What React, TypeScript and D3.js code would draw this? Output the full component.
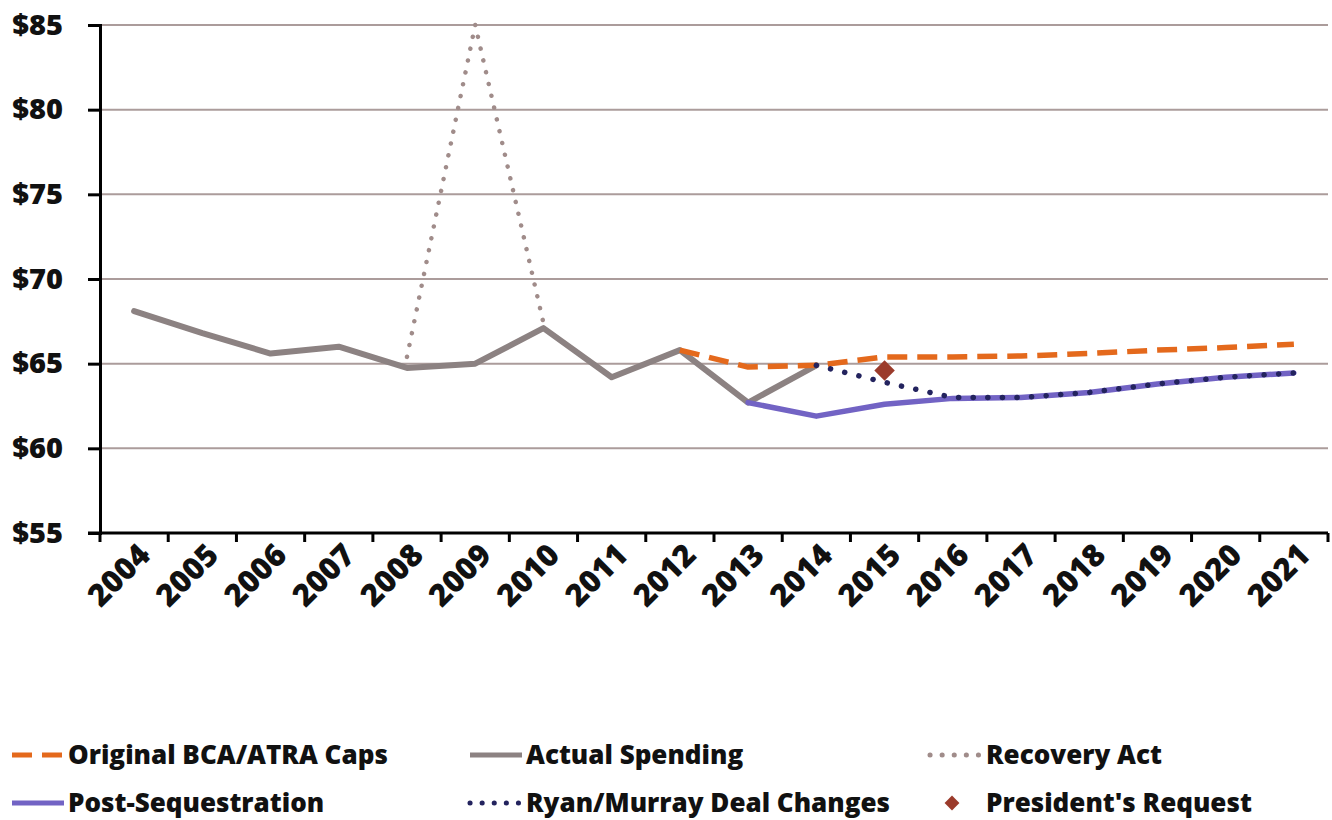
import { useEffect, useRef } from 'react';
import * as d3 from 'd3';

const years = ['2004', '2005', '2006', '2007', '2008', '2009', '2010', '2011', '2012', '2013', '2014', '2015', '2016', '2017', '2018', '2019', '2020', '2021'];
const yTicks = [55, 60, 65, 70, 75, 80, 85];

// values in $ billions
const actualYears = ['2004', '2005', '2006', '2007', '2008', '2009', '2010', '2011', '2012', '2013', '2014'];
const actualSpending = [68.1, 66.8, 65.6, 66.0, 64.75, 65.0, 67.1, 64.2, 65.8, 62.7, 64.9];

const recoveryYears = ['2008', '2009', '2010'];
const recoveryAct = [65.4, 85.0, 67.4];

const capsYears = ['2012', '2013', '2014', '2015', '2016', '2017', '2018', '2019', '2020', '2021'];
const originalCaps = [65.8, 64.8, 64.9, 65.4, 65.4, 65.45, 65.6, 65.8, 65.95, 66.15];

const seqYears = ['2013', '2014', '2015', '2016', '2017', '2018', '2019', '2020', '2021'];
const postSequestration = [62.7, 61.9, 62.6, 62.95, 63.0, 63.3, 63.8, 64.2, 64.45];

const ryanYears = ['2014', '2015', '2016', '2017', '2018', '2019', '2020', '2021'];
const ryanMurray = [64.9, 63.9, 63.0, 63.0, 63.3, 63.8, 64.2, 64.45];

const presidentYears = ['2015'];
const presidentRequest = [64.6];

const FONT = "'Open Sans', sans-serif";

export default function App() {
  const svgRef = useRef<SVGSVGElement>(null);

  useEffect(() => {
    if (!svgRef.current) return;
    document.body.style.margin = '0';

    const svg = d3.select(svgRef.current);
    svg.selectAll('*').remove();

    const left = 100, right = 1328, top = 25, bottom = 533;

    const x = d3.scaleBand().domain(years).range([left, right]);
    const y = d3.scaleLinear().domain([55, 85]).range([bottom, top]);
    const cx = (yr: string) => (x(yr) || 0) + x.bandwidth() / 2;

    // gridlines
    svg.append('g')
      .selectAll('line')
      .data(yTicks.filter(t => t > 55))
      .enter()
      .append('line')
      .attr('x1', left)
      .attr('x2', right)
      .attr('y1', d => y(d))
      .attr('y2', d => y(d))
      .attr('stroke', '#ab9c9b')
      .attr('stroke-width', 2);

    // y axis
    const yAxis = svg.append('g')
      .attr('transform', `translate(${left},0)`)
      .call(d3.axisLeft(y).tickValues(yTicks).tickSize(12).tickPadding(25).tickFormat(d => `$${d}`));
    yAxis.select('.domain').attr('stroke', '#000').attr('stroke-width', 3);
    yAxis.selectAll('.tick line').attr('stroke', '#000').attr('stroke-width', 3);
    yAxis.selectAll('.tick text')
      .attr('fill', '#111')
      .style('font-family', FONT)
      .style('font-weight', 800)
      .style('font-size', '29px');

    // x axis with ticks at band edges
    const xAxis = svg.append('g').attr('transform', `translate(0,${bottom})`);
    xAxis.append('line')
      .attr('x1', left - 12)
      .attr('x2', right)
      .attr('stroke', '#000')
      .attr('stroke-width', 3);
    xAxis.selectAll('.edge')
      .data([...years.map(yr => x(yr) || 0), right])
      .enter()
      .append('line')
      .attr('x1', d => d)
      .attr('x2', d => d)
      .attr('y1', 0)
      .attr('y2', 9)
      .attr('stroke', '#000')
      .attr('stroke-width', 3);
    xAxis.selectAll('.lbl')
      .data(years)
      .enter()
      .append('text')
      .attr('transform', d => `translate(${cx(d) + 18},${24}) rotate(-45)`)
      .attr('text-anchor', 'end')
      .attr('fill', '#111')
      .style('font-family', FONT)
      .style('font-weight', 800)
      .style('font-size', '31px')
      .text(d => d);

    const line = d3.line<[string, number]>()
      .x(d => cx(d[0]))
      .y(d => y(d[1]));

    const draw = (ys: string[], vals: number[], color: string, width: number, dash: string | null, cap = 'butt') => {
      svg.append('path')
        .datum(ys.map((yr, i) => [yr, vals[i]] as [string, number]))
        .attr('d', line)
        .attr('fill', 'none')
        .attr('stroke', color)
        .attr('stroke-width', width)
        .attr('stroke-linejoin', 'round')
        .attr('stroke-linecap', cap)
        .attr('stroke-dasharray', dash);
    };

    draw(actualYears, actualSpending, '#8c8282', 6, null, 'round');
    draw(recoveryYears, recoveryAct, '#a08c8a', 4.5, '0.1,12', 'round');
    draw(seqYears, postSequestration, '#7263c4', 5.5, null, 'round');
    draw(capsYears, originalCaps, '#e4691c', 5.5, '20,10');
    draw(ryanYears, ryanMurray, '#23235e', 5.5, '0.1,14.5', 'round');

    svg.append('g')
      .selectAll('path')
      .data(presidentYears.map((yr, i) => [yr, presidentRequest[i]] as [string, number]))
      .enter()
      .append('path')
      .attr('d', d3.symbol(d3.symbolSquare, 210))
      .attr('transform', d => `translate(${cx(d[0])},${y(d[1])}) rotate(45)`)
      .attr('fill', '#9b3b2b');

    // legend
    const legendItems = [
      { label: 'Original BCA/ATRA Caps', color: '#e4691c', kind: 'dash', col: 0, row: 0 },
      { label: 'Actual Spending', color: '#8c8282', kind: 'solid', col: 1, row: 0 },
      { label: 'Recovery Act', color: '#a08c8a', kind: 'dot', col: 2, row: 0 },
      { label: 'Post-Sequestration', color: '#7263c4', kind: 'solid', col: 0, row: 1 },
      { label: 'Ryan/Murray Deal Changes', color: '#23235e', kind: 'dot', col: 1, row: 1 },
      { label: "President's Request", color: '#9b3b2b', kind: 'marker', col: 2, row: 1 },
    ];
    const colX = [12, 470, 930];
    const rowY = [755, 803];

    const lg = svg.append('g');
    legendItems.forEach(it => {
      const x0 = colX[it.col];
      const yy = rowY[it.row];
      if (it.kind === 'marker') {
        lg.append('path')
          .attr('d', d3.symbol(d3.symbolSquare, 110)())
          .attr('transform', `translate(${x0 + 22},${yy}) rotate(45)`)
          .attr('fill', it.color);
      } else {
        lg.append('line')
          .attr('x1', x0)
          .attr('x2', x0 + 52)
          .attr('y1', yy)
          .attr('y2', yy)
          .attr('stroke', it.color)
          .attr('stroke-width', 5)
          .attr('stroke-linecap', it.kind === 'dot' ? 'round' : 'butt')
          .attr('stroke-dasharray', it.kind === 'dash' ? '20,10' : it.kind === 'dot' ? '0.1,12' : null);
      }
      lg.append('text')
        .attr('x', x0 + 56)
        .attr('y', yy)
        .attr('dy', '0.35em')
        .attr('fill', '#111')
        .style('font-family', FONT)
        .style('font-weight', 800)
        .style('font-size', '26px')
        .text(it.label);
    });
  }, []);

  return <svg ref={svgRef} width={1332} height={820} style={{ display: 'block', background: '#fff' }} />;
}
